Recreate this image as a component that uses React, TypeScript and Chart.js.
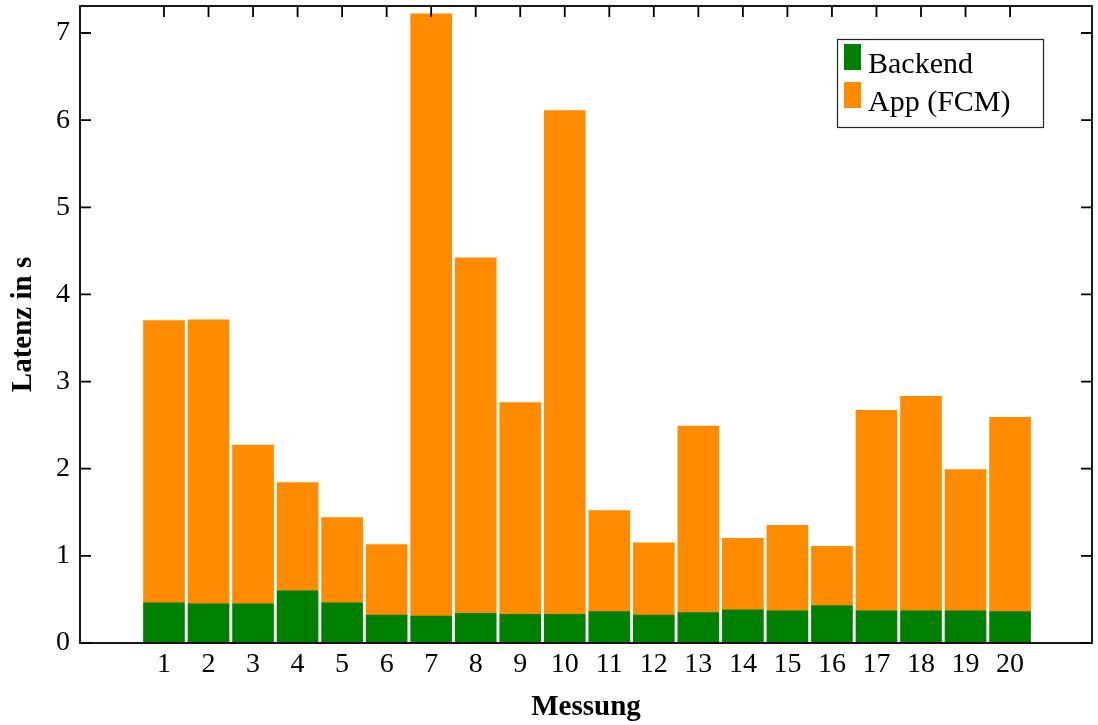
import React, { useEffect, useRef } from "react";
import { Chart, registerables } from "chart.js";

Chart.register(...registerables);

const categories = [1, 2, 3, 4, 5, 6, 7, 8, 9, 10, 11, 12, 13, 14, 15, 16, 17, 18, 19, 20];
const backend = [0.46, 0.45, 0.45, 0.6, 0.46, 0.32, 0.31, 0.34, 0.33, 0.33, 0.36, 0.32, 0.35, 0.38, 0.37, 0.43, 0.37, 0.37, 0.37, 0.36];
const app = [3.24, 3.26, 1.82, 1.24, 0.98, 0.81, 6.91, 4.08, 2.43, 5.78, 1.16, 0.83, 2.14, 0.82, 0.98, 0.68, 2.3, 2.46, 1.62, 2.23];
const yTicks = [0, 1, 2, 3, 4, 5, 6, 7];
const seriesLabels = ["Backend", "App (FCM)"];
const xTitle = "Messung";
const yTitle = "Latenz in s";

const GREEN = "#008000";
const ORANGE = "#ff8c00";
const FONT = "'Liberation Serif', 'DejaVu Serif', serif";

const framePlugin = {
  id: "frame",
  afterDatasetsDraw(chart: any) {
    const { ctx, chartArea: a, scales } = chart;
    const x = scales.x;
    const y = scales.y;
    ctx.save();
    ctx.strokeStyle = "#000";
    ctx.lineWidth = 1.8;
    ctx.strokeRect(a.left, a.top, a.right - a.left, a.bottom - a.top);
    ctx.beginPath();
    const tl = 11;
    for (const v of yTicks) {
      const py = y.getPixelForValue(v);
      ctx.moveTo(a.left, py);
      ctx.lineTo(a.left + tl, py);
      ctx.moveTo(a.right, py);
      ctx.lineTo(a.right - tl, py);
    }
    for (const c of categories) {
      const px = x.getPixelForValue(c);
      ctx.moveTo(px, a.top);
      ctx.lineTo(px, a.top + tl);
    }
    ctx.stroke();
    ctx.restore();
  },
};

const legendPlugin = {
  id: "boxLegend",
  afterDraw(chart: any) {
    const { ctx, chartArea: a } = chart;
    const w = 206;
    const h = 88;
    const x0 = a.right - 49 - w;
    const y0 = a.top + 33;
    ctx.save();
    ctx.fillStyle = "#fff";
    ctx.fillRect(x0, y0, w, h);
    ctx.strokeStyle = "#222";
    ctx.lineWidth = 1.2;
    ctx.strokeRect(x0 + 0.5, y0 + 0.5, w, h);
    ctx.font = `30px ${FONT}`;
    ctx.textBaseline = "alphabetic";
    ctx.textAlign = "left";
    chart.data.datasets.forEach((ds: any, i: number) => {
      const ry = y0 + 5 + i * 38;
      ctx.fillStyle = ds.backgroundColor;
      ctx.fillRect(x0 + 7, ry, 17, 26);
      ctx.fillStyle = "#000";
      ctx.fillText(ds.label, x0 + 31, y0 + 34 + i * 38);
    });
    ctx.restore();
  },
};

export default function App() {
  const ref = useRef<HTMLCanvasElement | null>(null);

  useEffect(() => {
    if (!ref.current) return;
    Chart.defaults.font.family = FONT;
    Chart.defaults.color = "#000";
    const chart = new Chart(ref.current, {
      type: "bar",
      data: {
        datasets: [
          {
            label: seriesLabels[0],
            data: categories.map((c, i) => ({ x: c, y: backend[i] })),
            backgroundColor: GREEN,
            barThickness: 41,
          },
          {
            label: seriesLabels[1],
            data: categories.map((c, i) => ({ x: c, y: app[i] })),
            backgroundColor: ORANGE,
            barThickness: 41,
          },
        ],
      },
      options: {
        responsive: false,
        animation: false,
        layout: { padding: { top: 6, right: 6, left: 0, bottom: 0 } },
        plugins: {
          legend: { display: false },
          tooltip: { enabled: false },
        },
        scales: {
          x: {
            type: "linear",
            stacked: true,
            min: -0.886,
            max: 21.84,
            offset: false,
            grid: { display: false, drawTicks: false },
            border: { display: false },
            afterBuildTicks: (scale: any) => {
              scale.ticks = categories.map((v) => ({ value: v }));
            },
            afterFit: (scale: any) => {
              scale.height = 82;
              scale.paddingLeft = 0;
              scale.paddingRight = 0;
            },
            ticks: {
              font: { size: 28 },
              padding: 5,
              autoSkip: false,
              maxRotation: 0,
              callback: (v: any) => String(v),
            },
            title: {
              display: true,
              text: xTitle,
              font: { size: 29, weight: "bold" },
              padding: { top: 0, bottom: 0 },
            },
          },
          y: {
            type: "linear",
            stacked: true,
            min: 0,
            max: 7.31,
            grid: { display: false, drawTicks: false },
            border: { display: false },
            afterBuildTicks: (scale: any) => {
              scale.ticks = yTicks.map((v) => ({ value: v }));
            },
            afterFit: (scale: any) => {
              scale.width = 80;
              scale.paddingTop = 0;
              scale.paddingBottom = 0;
            },
            ticks: {
              font: { size: 28 },
              padding: 10,
              callback: (v: any) => String(v),
            },
            title: {
              display: true,
              text: yTitle,
              font: { size: 29, weight: "bold" },
              padding: { top: 6, bottom: 0 },
            },
          },
        },
      } as any,
      plugins: [framePlugin, legendPlugin],
    });
    return () => chart.destroy();
  }, []);

  return (
    <div style={{ position: "absolute", left: 0, top: 0, width: 1098, height: 725, background: "#fff" }}>
      <canvas ref={ref} width={1098} height={725} style={{ width: 1098, height: 725, display: "block" }} />
    </div>
  );
}
